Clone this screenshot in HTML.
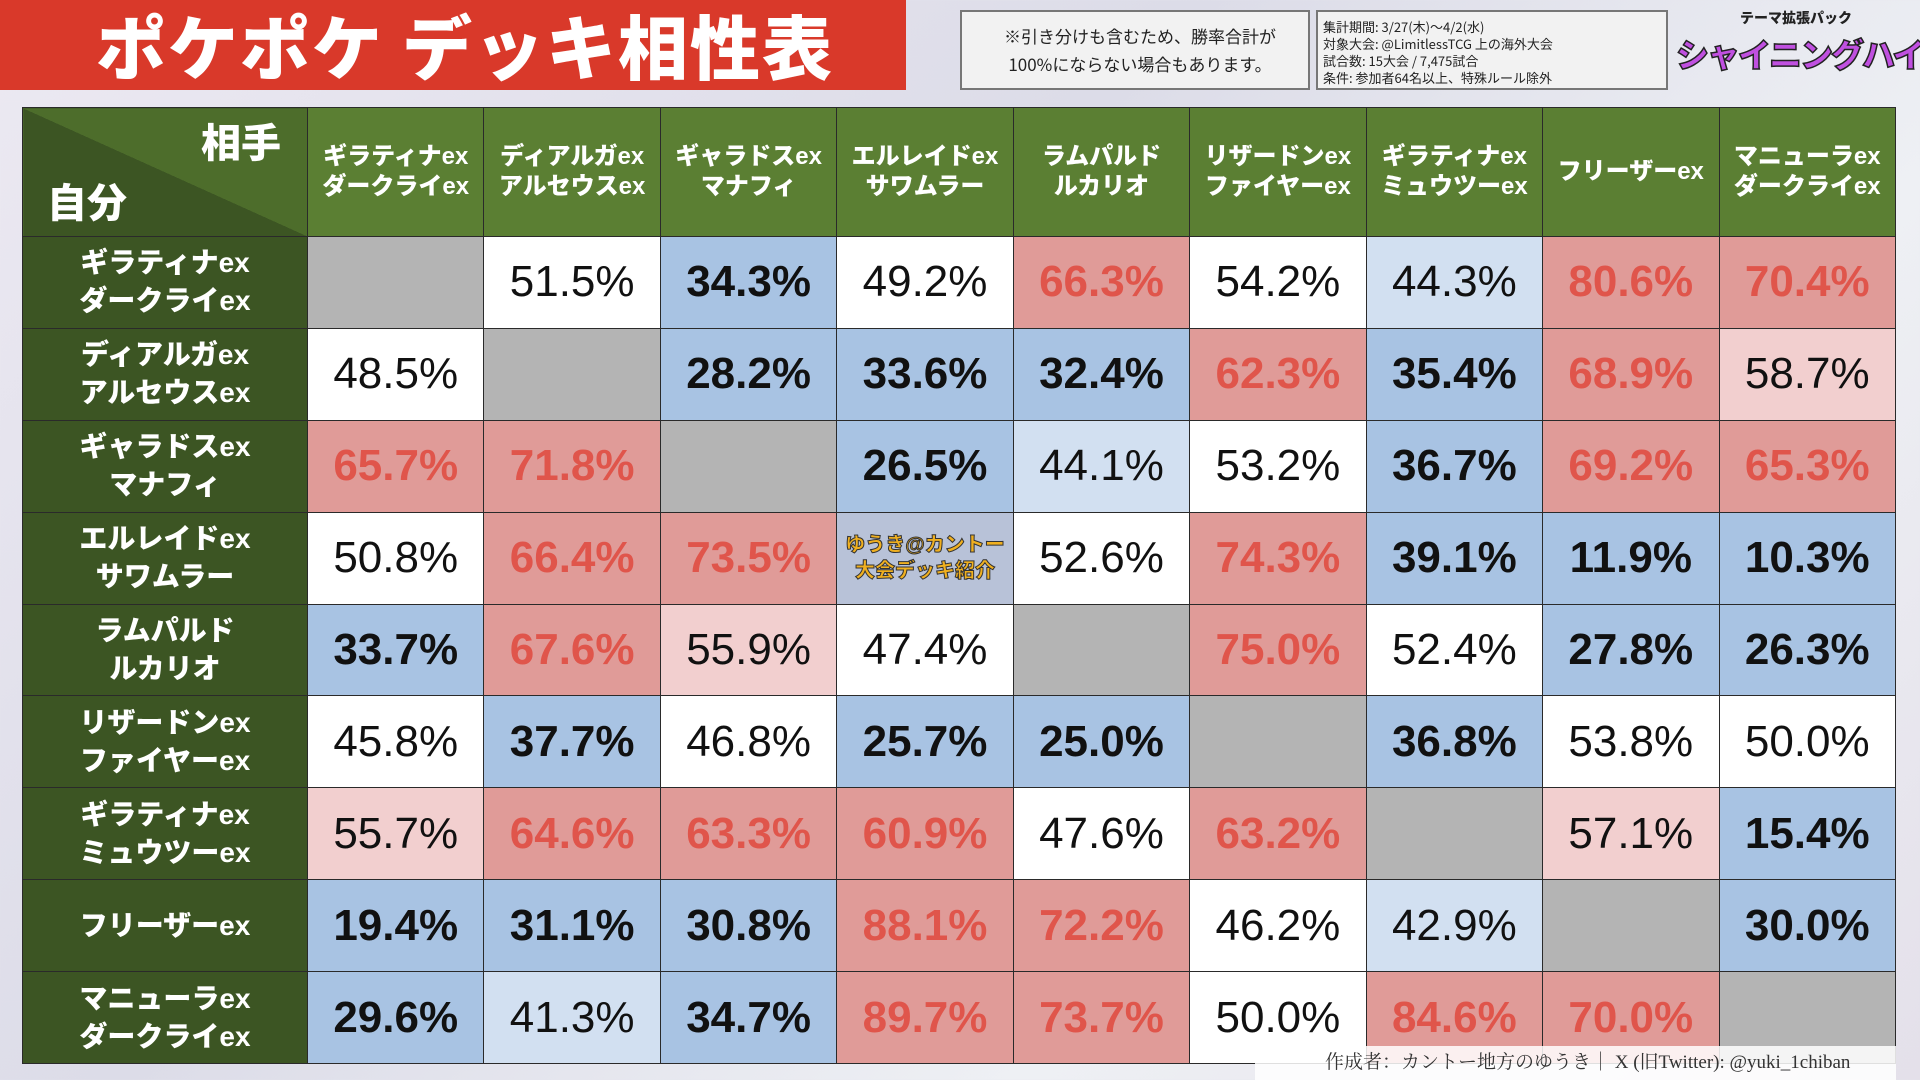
<!DOCTYPE html>
<html><head><meta charset="utf-8"><style>
*{margin:0;padding:0;box-sizing:border-box}
body{width:1920px;height:1080px;overflow:hidden;position:relative;font-family:"Liberation Sans","Noto Sans CJK JP",sans-serif;background:linear-gradient(135deg,#ece9f2 0%,#dcdce8 40%,#eef0f4 70%,#e4e0ea 100%)}
.title{position:absolute;left:0;top:0;width:906px;height:90px;background:#d9392a;color:#fff;font-weight:900;font-size:70px;line-height:90px;padding-left:96px;letter-spacing:2px;font-family:"Noto Sans CJK JP",sans-serif}
.box{position:absolute;top:10px;height:80px;background:#f2f2f2;border:2px solid #777;color:#222;font-family:"Noto Sans CJK JP",sans-serif}
.logo{position:absolute;left:1676px;top:8px;width:240px;height:84px;text-align:center;font-family:"Noto Sans CJK JP",sans-serif;font-weight:900;white-space:nowrap}
table{position:absolute;left:22px;top:107px;width:1874px;height:956px;border-collapse:collapse;table-layout:fixed}
td{border:1px solid #2a2a2a;text-align:center;vertical-align:middle;font-size:44px;color:#111}
tr.h td{height:129px;background:#5b7f33;color:#fff;font-weight:900;font-size:24px;line-height:30px;font-family:"Liberation Sans","Noto Sans CJK JP",sans-serif;white-space:nowrap}
tr.b td{height:91.9px}
td.rh{background:#3c5523;color:#fff;font-weight:900;font-size:28px;line-height:38px}
.W{background:#fff}
.B{background:#a8c3e3;font-weight:900}
.L{background:#d2e0f1}
.R{background:#e09b98;color:#e0554b;font-weight:900}
.P{background:#f2cfcf}
.G{background:#b4b4b4}
.foot{position:absolute;left:1255px;top:1046px;width:641px;height:34px;background:rgba(255,255,255,.85);font-family:"Liberation Serif","Noto Serif CJK SC",serif;font-size:19px;line-height:34px;padding-left:70px;color:#333}
</style></head><body>
<div class="title">ポケポケ デッキ相性表</div>
<div class="box" style="left:960px;width:350px;font-size:17px;line-height:28px;padding:10px 0 0 10px;text-align:center">※引き分けも含むため、勝率合計が<br>100%にならない場合もあります。</div>
<div class="box" style="left:1316px;width:352px;font-size:13px;line-height:17px;padding:6px 0 0 5px">集計期間: 3/27(木)～4/2(水)<br>対象大会: @LimitlessTCG 上の海外大会<br>試合数: 15大会 / 7,475試合<br>条件: 参加者64名以上、特殊ルール除外</div>
<div class="logo"><div style="font-size:14px;color:#222">テーマ拡張パック</div><div style="font-size:33px;line-height:50px;color:#c050e0;-webkit-text-stroke:1.5px #222;letter-spacing:-2px">シャイニングハイ</div></div>
<table>
<colgroup><col style="width:285px"><col><col><col><col><col><col><col><col><col></colgroup>
<tr class="h"><td style="background:linear-gradient(to top right,#3c5523 50%,#4d6d2b 50%);position:relative;font-size:40px;text-align:left"><div style="position:absolute;right:26px;top:14px;line-height:44px">相手</div><div style="position:absolute;left:24px;bottom:10px;line-height:44px">自分</div></td>
<td>ギラティナex<br>ダークライex</td><td>ディアルガex<br>アルセウスex</td><td>ギャラドスex<br>マナフィ</td><td>エルレイドex<br>サワムラー</td><td>ラムパルド<br>ルカリオ</td><td>リザードンex<br>ファイヤーex</td><td>ギラティナex<br>ミュウツーex</td><td>フリーザーex</td><td>マニューラex<br>ダークライex</td></tr>
<tr class="b"><td class="rh">ギラティナex<br>ダークライex</td><td class="G"></td><td class="W">51.5%</td><td class="B">34.3%</td><td class="W">49.2%</td><td class="R">66.3%</td><td class="W">54.2%</td><td class="L">44.3%</td><td class="R">80.6%</td><td class="R">70.4%</td></tr>
<tr class="b"><td class="rh">ディアルガex<br>アルセウスex</td><td class="W">48.5%</td><td class="G"></td><td class="B">28.2%</td><td class="B">33.6%</td><td class="B">32.4%</td><td class="R">62.3%</td><td class="B">35.4%</td><td class="R">68.9%</td><td class="P">58.7%</td></tr>
<tr class="b"><td class="rh">ギャラドスex<br>マナフィ</td><td class="R">65.7%</td><td class="R">71.8%</td><td class="G"></td><td class="B">26.5%</td><td class="L">44.1%</td><td class="W">53.2%</td><td class="B">36.7%</td><td class="R">69.2%</td><td class="R">65.3%</td></tr>
<tr class="b"><td class="rh">エルレイドex<br>サワムラー</td><td class="W">50.8%</td><td class="R">66.4%</td><td class="R">73.5%</td><td style="background:#b8c2d8;font-size:20px;font-weight:900;color:#f0b020;line-height:26px;-webkit-text-stroke:1px #333">ゆうき@カントー<br>大会デッキ紹介</td><td class="W">52.6%</td><td class="R">74.3%</td><td class="B">39.1%</td><td class="B">11.9%</td><td class="B">10.3%</td></tr>
<tr class="b"><td class="rh">ラムパルド<br>ルカリオ</td><td class="B">33.7%</td><td class="R">67.6%</td><td class="P">55.9%</td><td class="W">47.4%</td><td class="G"></td><td class="R">75.0%</td><td class="W">52.4%</td><td class="B">27.8%</td><td class="B">26.3%</td></tr>
<tr class="b"><td class="rh">リザードンex<br>ファイヤーex</td><td class="W">45.8%</td><td class="B">37.7%</td><td class="W">46.8%</td><td class="B">25.7%</td><td class="B">25.0%</td><td class="G"></td><td class="B">36.8%</td><td class="W">53.8%</td><td class="W">50.0%</td></tr>
<tr class="b"><td class="rh">ギラティナex<br>ミュウツーex</td><td class="P">55.7%</td><td class="R">64.6%</td><td class="R">63.3%</td><td class="R">60.9%</td><td class="W">47.6%</td><td class="R">63.2%</td><td class="G"></td><td class="P">57.1%</td><td class="B">15.4%</td></tr>
<tr class="b"><td class="rh">フリーザーex</td><td class="B">19.4%</td><td class="B">31.1%</td><td class="B">30.8%</td><td class="R">88.1%</td><td class="R">72.2%</td><td class="W">46.2%</td><td class="L">42.9%</td><td class="G"></td><td class="B">30.0%</td></tr>
<tr class="b"><td class="rh">マニューラex<br>ダークライex</td><td class="B">29.6%</td><td class="L">41.3%</td><td class="B">34.7%</td><td class="R">89.7%</td><td class="R">73.7%</td><td class="W">50.0%</td><td class="R">84.6%</td><td class="R">70.0%</td><td class="G"></td></tr>
</table>
<div class="foot">作成者：カントー地方のゆうき｜ X (旧Twitter): @yuki_1chiban</div>
</body></html>
